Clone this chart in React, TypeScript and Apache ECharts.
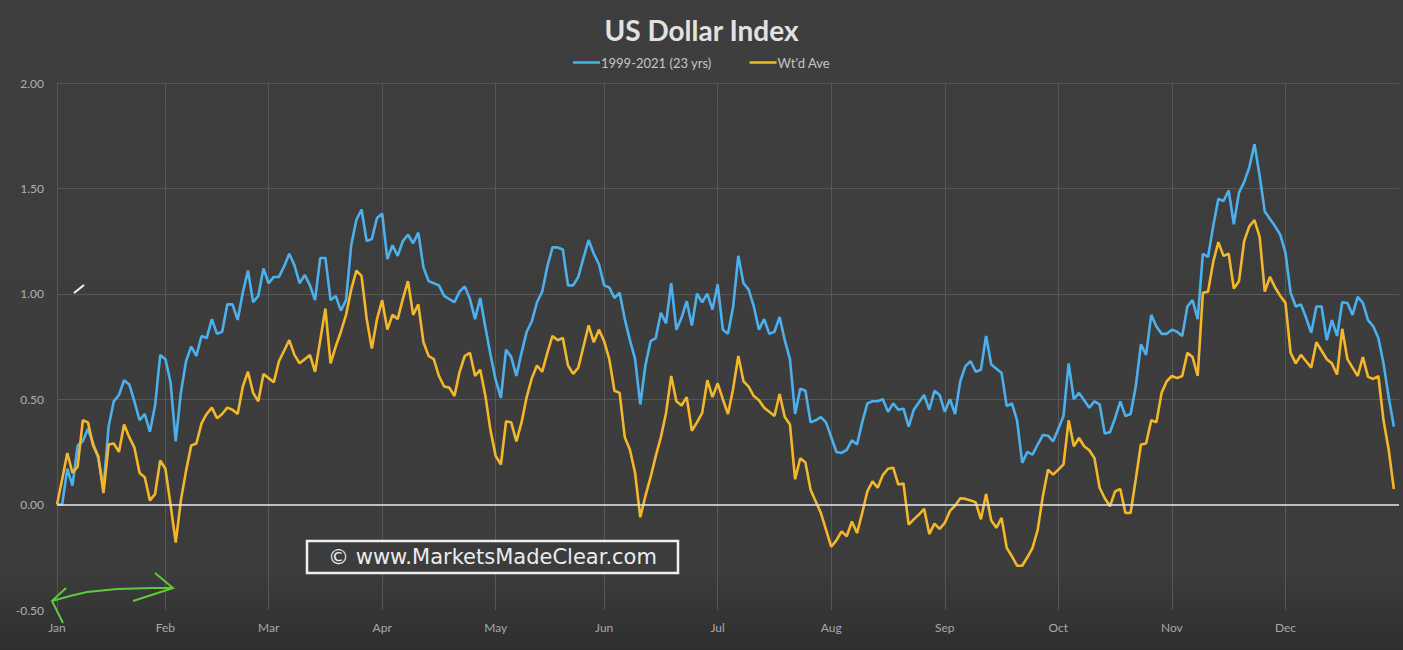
import React, { useEffect, useRef } from "react";
import * as echarts from "echarts";

// ---- Data (one value per weekday) ----
const monthNames = ["Jan", "Feb", "Mar", "Apr", "May", "Jun", "Jul", "Aug", "Sep", "Oct", "Nov", "Dec"];
const monthStartIdx = [0, 21, 41, 63, 85, 106, 128, 150, 172, 194, 216, 238];
const dayCount = 261;
const yTicks = { min: -0.5, max: 2.0, step: 0.5 };

const seriesNames = ["1999-2021 (23 yrs)", "Wt'd Ave"];

const blueValues = [
  0, 0, 0.17, 0.09, 0.28, 0.3, 0.36, 0.29, 0.22, 0.08,
  0.37, 0.49, 0.52, 0.59, 0.57, 0.49, 0.4, 0.43, 0.345, 0.47,
  0.71, 0.69, 0.58, 0.3, 0.53, 0.68, 0.75, 0.705, 0.8, 0.79,
  0.88, 0.81, 0.82, 0.95, 0.95, 0.876, 1.006, 1.11, 0.96, 0.99,
  1.12, 1.05, 1.08, 1.08, 1.13, 1.19, 1.136, 1.05, 1.09, 1.04,
  0.97, 1.17, 1.17, 0.97, 0.99, 0.92, 0.97, 1.23, 1.35, 1.4,
  1.25, 1.26, 1.36, 1.38, 1.165, 1.23, 1.18, 1.25, 1.28, 1.24,
  1.29, 1.125, 1.06, 1.05, 1.04, 0.99, 0.975, 0.96, 1.01, 1.035,
  0.975, 0.88, 0.98, 0.84, 0.71, 0.59, 0.506, 0.735, 0.7, 0.61,
  0.72, 0.82, 0.87, 0.96, 1.01, 1.13, 1.22, 1.22, 1.21, 1.04,
  1.04, 1.08, 1.17, 1.255, 1.19, 1.14, 1.04, 1.03, 0.98, 1.005,
  0.88, 0.78, 0.69, 0.475, 0.66, 0.775, 0.79, 0.91, 0.86, 1.05,
  0.83, 0.886, 0.965, 0.85, 1.0, 0.96, 1.0, 0.925, 1.045, 0.83,
  0.81, 0.94, 1.18, 1.05, 1.02, 0.94, 0.83, 0.88, 0.81, 0.82,
  0.89, 0.78, 0.69, 0.43, 0.55, 0.54, 0.39, 0.4, 0.415, 0.39,
  0.32, 0.25, 0.245, 0.26, 0.305, 0.285, 0.39, 0.48, 0.49, 0.49,
  0.5, 0.44, 0.48, 0.45, 0.455, 0.37, 0.45, 0.485, 0.52, 0.45,
  0.54, 0.52, 0.44, 0.5, 0.43, 0.585, 0.657, 0.68, 0.63, 0.64,
  0.8, 0.665, 0.645, 0.625, 0.467, 0.48, 0.4, 0.198, 0.25, 0.237,
  0.285, 0.33, 0.327, 0.3, 0.36, 0.42, 0.67, 0.5, 0.53, 0.495,
  0.46, 0.49, 0.475, 0.337, 0.343, 0.41, 0.49, 0.42, 0.43, 0.56,
  0.76, 0.71, 0.9, 0.845, 0.81, 0.81, 0.83, 0.82, 0.8, 0.94,
  0.97, 0.88, 1.19, 1.175, 1.32, 1.45, 1.44, 1.49, 1.33, 1.48,
  1.53, 1.6, 1.71, 1.56, 1.39, 1.355, 1.32, 1.28, 1.195, 1.005,
  0.94, 0.95, 0.886, 0.815, 0.94, 0.94, 0.78, 0.875, 0.8, 0.96,
  0.956, 0.9, 0.985, 0.957, 0.875, 0.846, 0.79, 0.67, 0.51, 0.37,
];

const orangeValues = [
  0, 0.12, 0.245, 0.15, 0.18, 0.4, 0.39, 0.28, 0.23, 0.055,
  0.285, 0.29, 0.25, 0.38, 0.32, 0.27, 0.15, 0.13, 0.02, 0.05,
  0.21, 0.17, 0.0, -0.18, 0.02, 0.16, 0.28, 0.29, 0.385, 0.43,
  0.46, 0.41, 0.43, 0.46, 0.45, 0.43, 0.56, 0.63, 0.53, 0.49,
  0.62, 0.6, 0.58, 0.68, 0.73, 0.78, 0.71, 0.67, 0.69, 0.71,
  0.63, 0.78, 0.93, 0.67, 0.75, 0.82, 0.9, 1.02, 1.11, 1.085,
  0.88, 0.74, 0.88, 0.97, 0.83, 0.9, 0.88, 0.975, 1.06, 0.9,
  0.95, 0.77, 0.705, 0.69, 0.61, 0.56, 0.555, 0.515, 0.63, 0.705,
  0.72, 0.61, 0.64, 0.515, 0.35, 0.23, 0.19, 0.395, 0.39, 0.3,
  0.39, 0.51, 0.6, 0.66, 0.63, 0.72, 0.8, 0.78, 0.79, 0.66,
  0.62, 0.65, 0.75, 0.85, 0.77, 0.83, 0.775, 0.69, 0.54, 0.53,
  0.32, 0.26, 0.15, -0.06, 0.04, 0.13, 0.23, 0.32, 0.435, 0.61,
  0.49, 0.47, 0.51, 0.35, 0.39, 0.435, 0.59, 0.51, 0.575, 0.5,
  0.43, 0.55, 0.705, 0.585, 0.56, 0.515, 0.495, 0.46, 0.44, 0.42,
  0.525, 0.415, 0.38, 0.12, 0.22, 0.2, 0.07, 0.015, -0.04, -0.12,
  -0.2, -0.17, -0.127, -0.15, -0.08, -0.135, -0.04, 0.063, 0.11, 0.08,
  0.14, 0.17, 0.175, 0.095, 0.1, -0.095, -0.07, -0.047, -0.02, -0.14,
  -0.09, -0.115, -0.087, -0.03, -0.005, 0.03, 0.027, 0.02, 0.01, -0.07,
  0.05, -0.075, -0.11, -0.063, -0.205, -0.245, -0.29, -0.29, -0.25, -0.205,
  -0.12, 0.04, 0.166, 0.142, 0.166, 0.19, 0.4, 0.277, 0.316, 0.277,
  0.258, 0.22, 0.08, 0.03, -0.008, 0.063, 0.074, -0.04, -0.04, 0.12,
  0.285, 0.29, 0.4, 0.39, 0.53, 0.585, 0.61, 0.6, 0.61, 0.72,
  0.7, 0.61, 1.005, 1.01, 1.15, 1.245, 1.18, 1.19, 1.025, 1.06,
  1.25, 1.32, 1.35, 1.27, 1.01, 1.08, 1.03, 0.99, 0.957, 0.72,
  0.67, 0.71, 0.68, 0.65, 0.77, 0.73, 0.69, 0.67, 0.617, 0.834,
  0.69, 0.65, 0.61, 0.7, 0.606, 0.596, 0.61, 0.4, 0.26, 0.074,
];

// ---- Styles ----
const BLUE = "#4cb0ee";
const ORANGE = "#f5b72a";
const GRID = "#575757";
const FONT = "Lato, 'Open Sans', sans-serif";

function buildOption() {
  const categories = Array.from({ length: dayCount }, (_, i) => String(i));
  const isMonthStart = (idx: number) => monthStartIdx.indexOf(idx) >= 0;

  return {
    animation: false,
    backgroundColor: {
      type: "linear",
      x: 0, y: 0, x2: 0, y2: 1,
      colorStops: [
        { offset: 0, color: "#3e3e3e" },
        { offset: 0.88, color: "#3c3c3c" },
        { offset: 1, color: "#2e2e2e" },
      ],
    },
    title: {
      text: "US Dollar Index",
      left: "center",
      top: 11,
      textStyle: { color: "#e2e2e2", fontSize: 28, fontWeight: "bold", fontFamily: FONT },
    },
    legend: {
      top: 51,
      left: "center",
      icon: "rect",
      itemWidth: 27,
      itemHeight: 2.5,
      itemGap: 38,
      textStyle: { color: "#c4c4c4", fontSize: 13, fontFamily: FONT, padding: [0, 0, 0, -4] },
      data: seriesNames,
    },
    grid: { left: 57, right: 4, top: 83, bottom: 40, containLabel: false },
    xAxis: {
      type: "category",
      boundaryGap: false,
      data: categories,
      axisLine: { show: false },
      axisTick: { show: false },
      axisLabel: {
        interval: (idx: number) => isMonthStart(idx),
        formatter: (v: string) => {
          const m = monthStartIdx.indexOf(Number(v));
          return m >= 0 ? monthNames[m] : "";
        },
        color: "#a8a8a8",
        fontSize: 12,
        fontFamily: FONT,
        margin: 11,
      },
      splitLine: {
        show: true,
        interval: (idx: number) => isMonthStart(idx),
        lineStyle: { color: GRID, width: 1 },
      },
    },
    yAxis: {
      type: "value",
      min: yTicks.min,
      max: yTicks.max,
      interval: yTicks.step,
      axisLine: { show: false },
      axisTick: { show: false },
      axisLabel: {
        formatter: (v: number) => v.toFixed(2),
        color: "#b0b0b0",
        fontSize: 12,
        fontFamily: FONT,
        margin: 13,
      },
      splitLine: {
        show: true,
        lineStyle: { color: ["rgba(0,0,0,0)", GRID, GRID, GRID, GRID, GRID], width: 1 },
      },
    },
    series: [
      {
        name: seriesNames[0],
        type: "line",
        data: blueValues,
        showSymbol: false,
        symbol: "none",
        color: BLUE,
        lineStyle: { color: BLUE, width: 2.6 },
        markLine: {
          silent: true,
          symbol: ["none", "none"],
          label: { show: false },
          lineStyle: { color: "#e4e4e4", width: 1.5, type: "solid" },
          data: [{ yAxis: 0 }],
        },
      },
      {
        name: seriesNames[1],
        type: "line",
        data: orangeValues,
        showSymbol: false,
        symbol: "none",
        color: ORANGE,
        lineStyle: { color: ORANGE, width: 2.6 },
      },
    ],
    graphic: [
      {
        type: "rect",
        z: 100,
        shape: { x: 307, y: 541, width: 371, height: 32 },
        style: { fill: "#3c3c3c", stroke: "#f0f0f0", lineWidth: 2.5 },
      },
      {
        type: "text",
        z: 101,
        x: 492.5,
        y: 557,
        style: {
          text: "© www.MarketsMadeClear.com",
          fill: "#ececec",
          font: "21px 'DejaVu Sans', sans-serif",
          align: "center",
          verticalAlign: "middle",
        },
      },
      // hand-drawn green arrow annotation
      {
        type: "polyline",
        z: 102,
        shape: { points: [[52, 601], [70, 596], [87, 592], [117, 589], [153, 588], [173, 588]] },
        style: { stroke: "#5ccb3a", lineWidth: 2, fill: "none" },
      },
      {
        type: "polyline",
        z: 102,
        shape: { points: [[66, 588], [52, 601], [63, 623]] },
        style: { stroke: "#5ccb3a", lineWidth: 2, fill: "none" },
      },
      {
        type: "polyline",
        z: 102,
        shape: { points: [[155, 573], [173, 588], [133, 601]] },
        style: { stroke: "#5ccb3a", lineWidth: 2, fill: "none" },
      },
      // small white pen mark
      {
        type: "line",
        z: 102,
        shape: { x1: 74, y1: 293, x2: 84, y2: 285 },
        style: { stroke: "#f4f4f4", lineWidth: 2 },
      },
    ],
  };
}

export default function App() {
  const ref = useRef<HTMLDivElement>(null);
  useEffect(() => {
    if (!ref.current) return;
    const chart = echarts.init(ref.current, null, { renderer: "svg" });
    chart.setOption(buildOption() as any);
    return () => chart.dispose();
  }, []);
  return (
    <div
      ref={ref}
      style={{ position: "fixed", left: 0, top: 0, width: 1403, height: 650 }}
    />
  );
}
